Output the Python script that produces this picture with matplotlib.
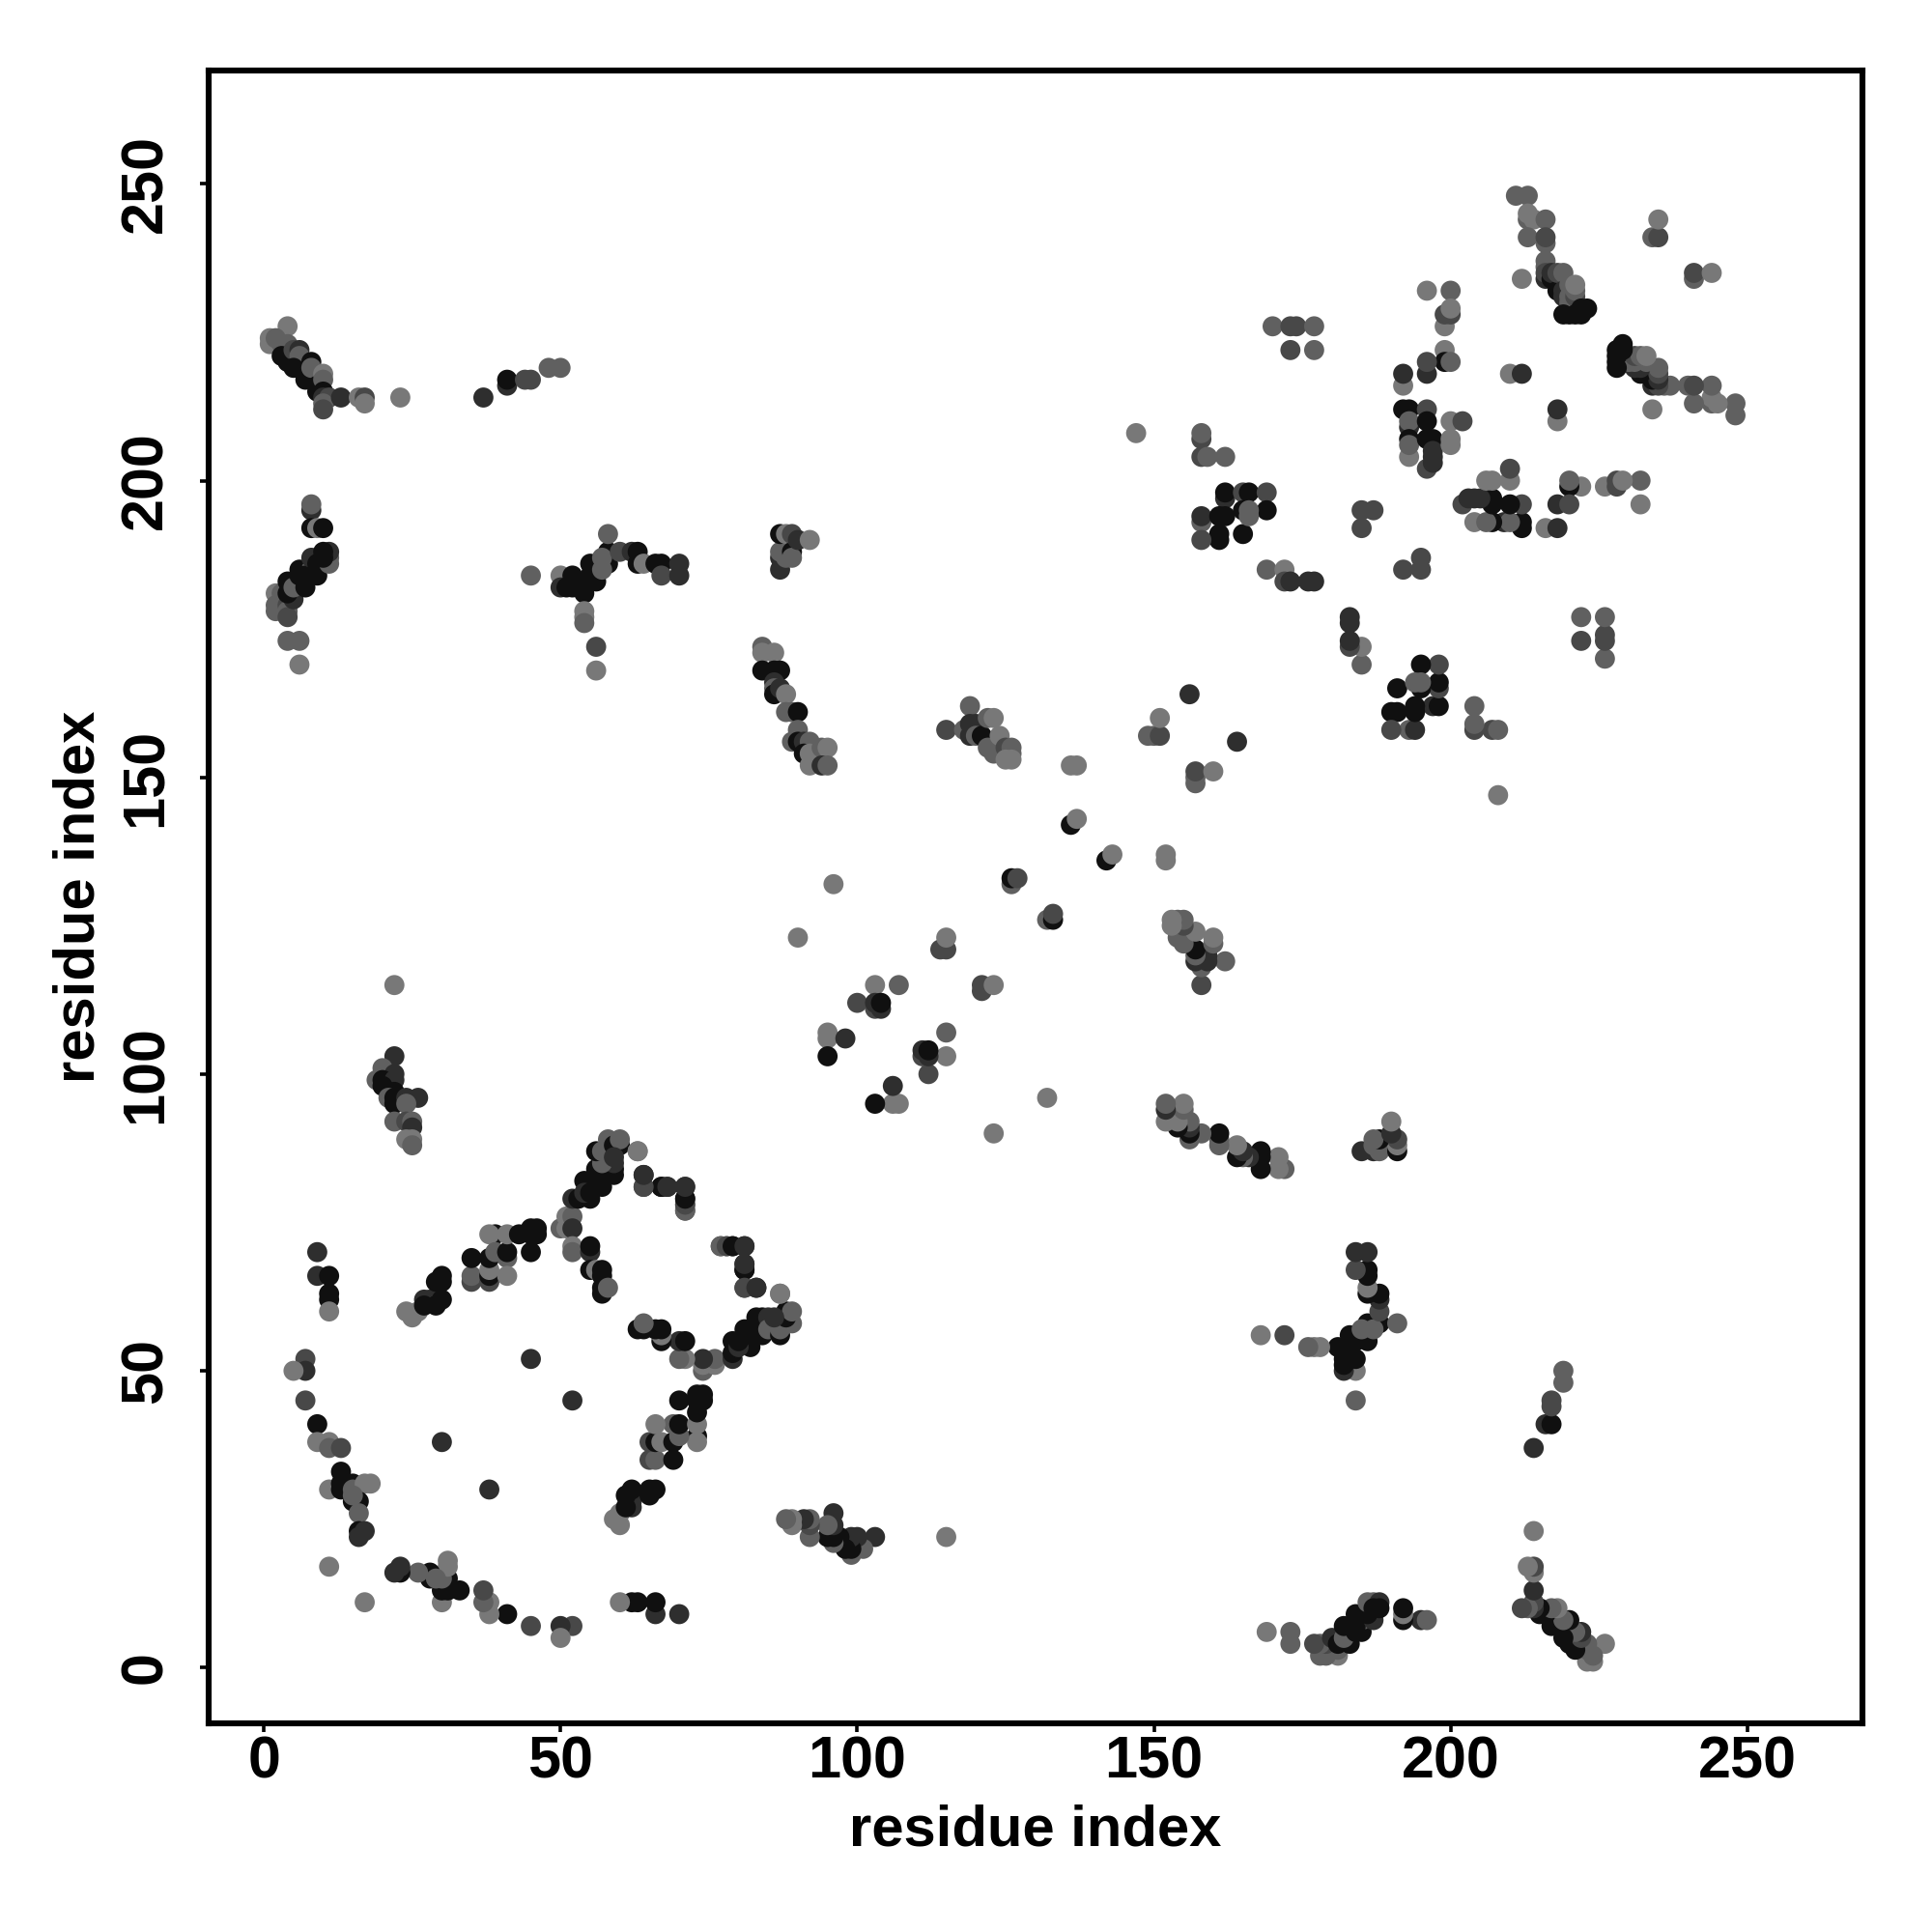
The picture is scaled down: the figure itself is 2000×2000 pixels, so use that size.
import matplotlib
matplotlib.use("Agg")
import matplotlib.pyplot as plt

plt.rcParams['font.family'] = ['Liberation Sans', 'DejaVu Sans']

tick_values = [0, 50, 100, 150, 200, 250]
gray_levels = ['#101010', '#2e2e2e', '#484848', '#606060', '#787878']

a_i = [7,7,5,7,9, 9,11,11,13,13, 11,13,13,15,15, 17,18,15,16,16, 16,16,17,11,15]
a_j = [52,50,50,45,41, 38,38,37,37,33, 30,31,30,31,30, 31,31,28,28,26, 23,22,23,17,29]
a_s = [2,1,4,2,0, 4,4,3,2,0, 4,0,0,0,3, 4,4,0,0,3, 0,1,1,4,3]

b_i = [30,45,9,9,11,11,11,11]
b_j = [38,52,70,66,66,63,62,60]
b_s = [1,1,1,1,0,0,0,4]

c_i = [24,25,26,27,28,29,30,29,27,30,29,30]
c_j = [60,59,60,62,62,62,62,61,61,65,65,66]
c_s = [4,4,4,1,1,1,0,0,0,0,0,0]

d_i = [35,35,38,38,38, 38,39,38,39,41, 41,41,41,43,45, 45,45,46,46,35]
d_j = [65,66,65,66,67, 69,73,73,70,69, 70,66,73,73,70, 73,74,74,73,69]
d_s = [2,3,2,0,4, 0,0,4,3,3, 0,4,4,0,0, 0,0,0,0,0]

e_i = [50,51,51,52,52,52,52,55,55,55,56,57,57,57,57,58]
e_j = [74,74,76,76,74,71,70,70,71,67,67,67,66,63,64,64]
e_s = [3,4,4,3,1,4,3,1,0,0,4,0,0,0,0,3]

f_i = [52,53,55,54,54, 55,56,56,57,56, 57,59,59,59,57, 56,57,58,59,60, 60,59,63]
f_j = [79,79,79,82,80, 80,83,81,81,84, 82,84,83,85,85, 87,87,89,88,88, 89,86,87]
f_s = [1,0,0,0,1, 0,0,0,0,0, 0,0,0,1,3, 0,3,3,0,0, 3,1,4]

g_i = [64,64,67,68,71,71,71,71]
g_j = [83,81,81,81,77,78,79,81]
g_s = [1,2,0,1,2,3,0,1]

h_i = [77,78,79,81,81,81,81,83,87]
h_j = [71,71,71,71,67,68,64,64,63]
h_s = [3,2,0,1,0,1,2,1,4]

j_i = [22,22,20,22,19, 20,22,20,21,22, 21,22,22,24,26, 24,22,24,25,25, 24,25,25]
j_j = [115,103,101,100,99, 99,99,98,97,97, 96,96,95,96,96, 95,92,92,92,91, 89,89,88]
j_s = [4,1,3,1,3, 0,1,0,0,0, 3,0,0,1,1, 3,3,2,3,1, 4,4,3]

k0_i = [3,4,5,6,7,8,9]
k0_j = [222,220,220,219,218,217,215]
k0_s = [0,0,0,0,0,0,0]

k_i = [4,1,1,2,3, 4,3,5,6,6, 5,8,7,8,9, 10,10,10,10,11, 10,10,13,16,17, 17,23]
k_j = [226,224,223,224,223, 223,221,222,222,221, 219,220,217,219,216, 218,217,215,214,214, 213,212,214,214,214, 213,214]
k_s = [4,4,4,3,3, 3,0,2,1,3, 0,0,0,3,0, 4,3,0,1,2, 3,2,1,4,2, 4,4]

l_i = [37,41,41,44,45,48,50]
l_j = [214,216,217,217,217,219,219]
l_s = [1,1,0,2,2,3,3]

m_i = [8,8,8,9,10, 2,2,2,3,4, 4,4,5,4,4, 5,6,7,8,6, 7,8,9,9,8, 9,11,11,11,10, 10,4,6,6]
m_j = [195,196,192,192,192, 181,179,178,181,179, 178,177,180,183,181, 182,185,182,185,184, 184,184,184,187,187, 186,186,187,188,187, 188,173,173,169]
m_s = [1,3,0,4,0, 4,3,3,3,2, 3,2,1,0,0, 3,0,0,3,0, 0,0,0,1,1, 0,3,3,1,0, 0,3,3,4]

n_i = [45,50,50,51,52, 52,53,54,54,55, 56,55,58,58,57, 57,60,62,58,63, 63,64,66,67,67, 70,70,54,54,54, 56,56]
n_j = [184,184,182,182,184, 182,182,181,183,186, 183,184,186,188,185, 187,188,188,191,188, 186,186,186,186,184, 186,184,178,177,176, 172,168]
n_s = [3,4,1,0,0, 0,0,0,0,0, 0,0,0,0,3, 3,2,1,3,0, 0,4,0,0,2, 1,1,4,4,3, 2,4]

o_i = [87,87,87,88,87,88,89,89,89,90,92]
o_j = [185,187,188,187,191,191,188,187,191,190,190]
o_s = [1,1,3,3,0,4,0,3,2,1,4]

p_i = [84,84,86,84,86, 87,86,86,86,87, 88,88,89,90,90, 89,90,91,92,91, 92,94,95,92,94, 95]
p_j = [172,171,171,168,168, 168,166,165,164,165, 164,161,161,161,158, 156,156,156,156,154, 154,155,155,152,152, 152]
p_s = [3,4,4,0,0, 0,1,3,0,1, 4,3,3,0,3, 3,0,1,3,0, 4,3,4,4,1, 3]

q_i = [119,115,118,119,119, 120,120,121,122,123, 122,123,124,125,126, 126,126,125]
q_j = [162,158,158,159,157, 159,157,157,160,160, 155,154,157,155,155, 154,153,153]
q_s = [3,2,3,1,1, 1,3,0,3,4, 3,3,4,2,3, 3,4,4]

r_i = [149,150,151,151,156, 136,137,136,137, 126,126,127, 96,90, 114,115,115, 103,107, 100,103,103,104,104, 95,95,98,95]
r_j = [157,157,157,160,164, 152,152,142,143, 132,133,133, 132,123, 121,121,123, 115,115, 112,111,112,111,112, 107,106,106,103]
r_s = [3,3,2,4,1, 4,4,0,4, 3,0,2, 4,4, 2,2,4, 4,3, 2,2,1,1,0, 4,4,1,0]

s_i = [147,158,158,158,159, 162,162,162,165,166, 169,169,165,165,166, 166,158,158,161,162, 161,161,158]
s_j = [208,207,208,204,204, 204,197,198,198,198, 198,195,191,195,195, 194,193,194,194,194, 190,191,190]
s_s = [4,2,3,2,3, 3,1,0,2,0, 2,0,0,0,3, 3,3,1,0,0, 0,0,2]

t_i = [169,172,172,173,176,177]
t_j = [185,185,183,183,183,183]
t_s = [3,4,2,1,1,1]

u_i = [185,187,185]
u_j = [195,195,192]
u_s = [2,2,2]

x_i = [170,173,174,177,173,177]
x_j = [226,226,226,226,222,222]
x_s = [3,2,2,3,2,3]

y_i = [196,200,199,199,200,200,199,199,200,196,196,192,192,192,193,196,193,193,196,200,202,193,193,193,196,197,197,196,197,197,200,200]
y_j = [232,232,226,228,228,229,222,220,220,218,220,216,218,212,212,212,209,210,210,210,210,204,207,206,207,207,204,202,203,205,206,207]
y_s = [4,3,4,2,2,4,4,0,3,1,2,4,1,0,0,2,1,3,0,4,2,4,0,3,0,0,1,2,1,1,4,4]

z_i = [211,213,213,213,214,216,213,216,216,212,216,216,216,216,217,217,218,218,219,219,219,220,220,220,220,221,221,221,221,222,222,223,219,210,212,234,235,235]
z_j = [248,248,244,245,244,244,241,240,241,234,237,236,234,235,234,235,232,235,235,232,231,228,230,231,233,231,232,233,228,228,229,229,228,218,218,241,241,244]
z_s = [3,3,3,4,4,3,3,3,2,4,3,3,1,2,0,1,0,2,3,1,1,0,3,3,3,2,3,4,0,0,0,0,0,4,1,3,2,4]

clusters = [(a_i, a_j, a_s), (b_i, b_j, b_s), (c_i, c_j, c_s), (d_i, d_j, d_s),
            (e_i, e_j, e_s), (f_i, f_j, f_s), (g_i, g_j, g_s), (h_i, h_j, h_s),
            (j_i, j_j, j_s), (k0_i, k0_j, k0_s), (k_i, k_j, k_s), (l_i, l_j, l_s),
            (m_i, m_j, m_s), (n_i, n_j, n_s), (o_i, o_j, o_s), (p_i, p_j, p_s),
            (q_i, q_j, q_s), (r_i, r_j, r_s), (s_i, s_j, s_s), (t_i, t_j, t_s),
            (u_i, u_j, u_s), (x_i, x_j, x_s), (y_i, y_j, y_s), (z_i, z_j, z_s)]

xs, ys, cs = [], [], []
for ci, cj, cshade in clusters:
    assert len(ci) == len(cj) == len(cshade), (ci, cj)
    for a, b, c in zip(ci, cj, cshade):
        # the contact map is symmetric: each contact appears at (i, j) and (j, i)
        xs += [a, b]
        ys += [b, a]
        cs += [gray_levels[c], gray_levels[c]]

L, R, T, B = 216, 1928, 73, 1784
fig = plt.figure(figsize=(10, 10), dpi=200)
ax = fig.add_axes([L/2000, 1 - B/2000, (R-L)/2000, (B-T)/2000])
ax.scatter(xs, ys, s=56, c=cs, linewidths=0, zorder=3)

ax.set_xlim(-9.3, 269.4)
ax.set_ylim(-9.4, 269.1)
ax.set_xticks(tick_values)
ax.set_yticks(tick_values)
ax.tick_params(axis='both', length=3.4, width=1.3, labelsize=22)
ax.tick_params(axis='x', pad=1.0)
ax.tick_params(axis='y', pad=9.5)
for lab in ax.get_xticklabels():
    lab.set_fontweight('bold')
for lab in ax.get_yticklabels():
    lab.set_fontweight('bold')
    lab.set_rotation(90)
    lab.set_va('center')
for sp in ax.spines.values():
    sp.set_linewidth(2.2)

ax.set_xlabel('residue index', fontsize=21.5, fontweight='bold')
ax.set_ylabel('residue index', fontsize=21.5, fontweight='bold')
ax.xaxis.set_label_coords(0.5, (B - 1895) / (B - T), transform=ax.transAxes)
ax.xaxis.label.set_va('center')
ax.yaxis.set_label_coords((82 - L) / (R - L), 0.5, transform=ax.transAxes)
ax.yaxis.label.set_va('center')

fig.savefig('out.png', dpi=200, facecolor='white')
